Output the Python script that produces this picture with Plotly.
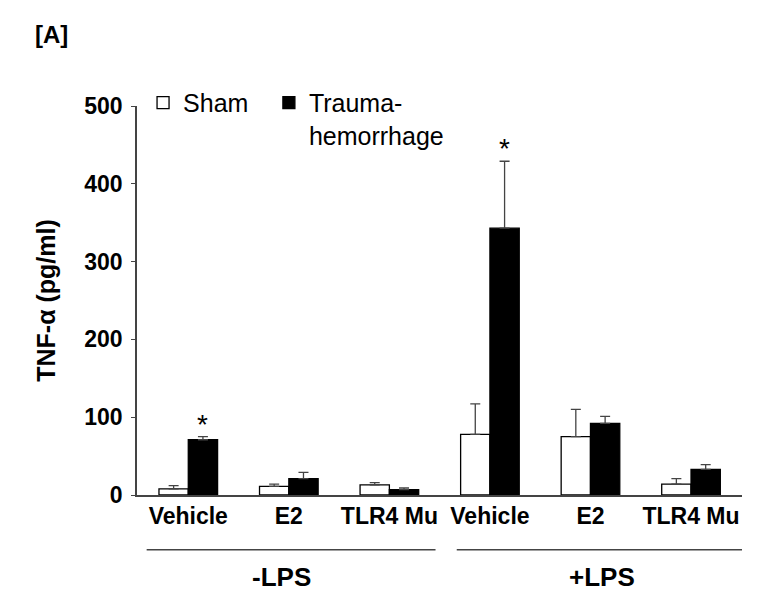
"""
TNF-alpha release (pg/ml) in sham vs trauma-hemorrhage groups,
with and without LPS stimulation. Grouped bars with upper-only SEM bars.
"""

import plotly.graph_objects as go

# --- data ---
categories = ["Vehicle", "E2", "TLR4 Mu", "Vehicle", "E2", "TLR4 Mu"]
groups = ["-LPS", "+LPS"]
sham = [8, 11, 13, 78, 75, 14]
sham_err = [4, 3, 3, 39, 35, 7]
trauma = [71, 21, 7, 343, 92, 33]
trauma_err = [4, 8, 2, 86, 9, 6]
significant = [0, 3]  # positions marked with * over the trauma bar
y_ticks = [0, 100, 200, 300, 400, 500]

FONT = "Liberation Sans, Arial, sans-serif"
BAR_GAP = 0.417
x_pos = list(range(len(categories)))

err_style = {"type": "data", "symmetric": False, "thickness": 1.3,
             "width": 5, "color": "#444444"}

fig = go.Figure()
fig.add_trace(go.Bar(
    x=x_pos, y=sham, name="Sham", legend="legend", showlegend=True,
    marker={"color": "white", "line": {"color": "black", "width": 1.3}},
    error_y={**err_style, "array": sham_err, "arrayminus": [0] * len(sham)},
))
fig.add_trace(go.Bar(
    x=x_pos, y=trauma, name="Trauma-<br>hemorrhage", legend="legend2",
    showlegend=True,
    marker={"color": "black", "line": {"color": "black", "width": 1.3}},
    error_y={**err_style, "array": trauma_err, "arrayminus": [0] * len(trauma)},
))

# asterisks above the significant trauma bars
offset = (1 - BAR_GAP) / 4
for i in significant:
    fig.add_annotation(
        x=i + offset, y=trauma[i] + trauma_err[i], text="*",
        showarrow=False, yanchor="bottom", yshift=-5,
        font={"family": FONT, "size": 28, "color": "black"},
    )

# group brackets (-LPS / +LPS) under the category labels
spans = [(-0.414, 2.459), (2.670, 5.568)]
label_x = [0.93, 4.11]
for g, (x0, x1), lx in zip(groups, spans, label_x):
    fig.add_shape(type="line", xref="x", yref="paper", x0=x0, x1=x1,
                  y0=-0.141, y1=-0.141, line={"color": "#444444", "width": 1.5})
    fig.add_annotation(
        x=lx, y=-0.21, xref="x", yref="paper", text=g, yanchor="middle",
        showarrow=False, font={"family": FONT, "size": 26, "color": "black",
                               "weight": "bold"},
    )

fig.add_annotation(
    x=-0.172, y=1.183, xref="paper", yref="paper", text="[A]", showarrow=False,
    xanchor="left", yanchor="middle",
    font={"family": FONT, "size": 24, "color": "black", "weight": "bold"},
)

legend_style = {"orientation": "h", "y": 1.067, "xanchor": "left",
                "yanchor": "top", "font": {"size": 25, "family": FONT},
                "valign": "top", "bgcolor": "rgba(0,0,0,0)", "visible": True}

fig.update_layout(
    width=777, height=616,
    margin={"l": 129, "r": 43, "t": 98, "b": 129},
    paper_bgcolor="white", plot_bgcolor="white",
    barmode="group", bargap=BAR_GAP, bargroupgap=0,
    font={"family": FONT, "color": "black"},
    showlegend=True,
    legend={**legend_style, "x": 0.01},
    legend2={**legend_style, "x": 0.218},
    xaxis={"range": [-0.51, 5.507], "tickvals": x_pos, "ticktext": categories,
           "showline": True, "linecolor": "#444444", "linewidth": 1.5,
           "ticks": "", "showgrid": False, "zeroline": False,
           "tickfont": {"size": 23, "weight": "bold", "family": FONT}},
    yaxis={"range": [0, 500], "tickvals": y_ticks,
           "showline": True, "linecolor": "#444444", "linewidth": 1.5,
           "ticks": "outside", "ticklen": 4, "tickcolor": "#444444",
           "ticklabelstandoff": 4,
           "showgrid": False, "zeroline": False,
           "tickfont": {"size": 23, "weight": "bold", "family": FONT}},
)
fig.update_yaxes(title={"text": "TNF-α (pg/ml)", "standoff": 22,
                        "font": {"size": 25, "weight": "bold", "family": FONT}})

fig.write_html("out.html")
